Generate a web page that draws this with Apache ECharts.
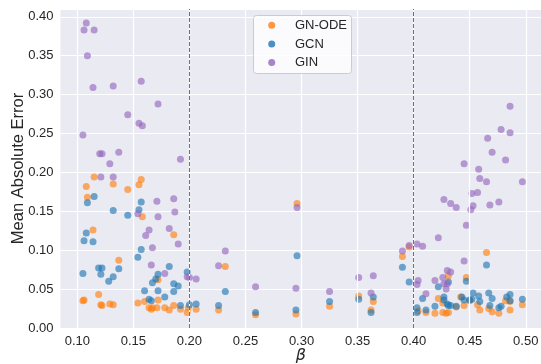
<!DOCTYPE html>
<html>
<head>
<meta charset="utf-8">
<script src="https://cdn.jsdelivr.net/npm/echarts@6/dist/echarts.min.js"></script>
<style>
  html, body { margin: 0; padding: 0; background: #ffffff; }
  #chart { width: 541px; height: 364px; }
</style>
</head>
<body>
<div id="chart"></div>
<script>
// Mean absolute error per graph, plotted against beta, for each model
const gnodeBeta = [
  0.115,0.132,0.108,0.157,0.155,0.145,0.109,0.114,0.158,0.186,
  0.137,0.172,0.119,0.105,0.106,0.121,0.122,0.129,0.132,0.154,0.160,0.172,0.164,0.166,0.167,0.171,0.178,0.182,0.186,0.192,0.198,0.199,0.206,
  0.232,0.226,0.259,0.295,0.296,0.325,0.351,0.364,0.362,
  0.390,0.396,0.404,0.411,0.419,0.422,0.426,0.426,0.429,0.431,0.431,0.438,0.442,0.445,0.447,0.450,0.457,0.459,0.465,0.467,0.470,0.476,0.482,0.486,0.486,0.497
];
const gnodeMae = [
  0.194,0.185,0.182,0.191,0.184,0.178,0.168,0.126,0.143,0.120,
  0.087,0.062,0.043,0.035,0.036,0.030,0.029,0.031,0.030,0.032,0.034,0.036,0.026,0.024,0.026,0.026,0.026,0.023,0.029,0.024,0.020,0.026,0.024,
  0.079,0.023,0.017,0.018,0.160,0.028,0.041,0.034,0.023,
  0.092,0.104,0.022,0.020,0.019,0.038,0.032,0.020,0.019,0.020,0.067,0.027,0.040,0.029,0.065,0.035,0.030,0.023,0.097,0.025,0.021,0.019,0.035,0.034,0.023,0.030
];

const gcnBeta = [
  0.115,0.109,0.157,0.132,0.155,0.145,0.108,0.106,0.114,0.157,
  0.154,0.105,0.119,0.122,0.121,0.137,0.132,0.128,0.182,0.172,0.170,0.167,0.198,0.186,0.190,0.160,0.172,0.186,0.178,0.164,0.166,0.192,0.200,0.206,
  0.232,0.226,0.259,0.295,0.296,0.325,0.351,0.364,0.362,
  0.390,0.396,0.403,0.403,0.408,0.411,0.419,0.422,0.427,0.427,0.430,0.431,0.431,0.433,0.438,0.443,0.445,0.447,0.450,0.452,0.453,0.458,0.459,0.465,0.467,0.470,0.468,0.476,0.478,0.483,0.486,0.486,0.497
];
const gcnMae = [
  0.169,0.161,0.162,0.151,0.152,0.145,0.122,0.112,0.111,0.101,
  0.091,0.070,0.077,0.077,0.069,0.076,0.066,0.060,0.079,0.069,0.063,0.058,0.072,0.057,0.054,0.048,0.048,0.047,0.040,0.037,0.035,0.029,0.030,0.031,
  0.047,0.029,0.020,0.023,0.093,0.034,0.037,0.040,0.020,
  0.078,0.059,0.026,0.020,0.038,0.023,0.028,0.053,0.040,0.036,0.031,0.059,0.029,0.029,0.028,0.040,0.036,0.060,0.036,0.037,0.045,0.041,0.034,0.081,0.045,0.038,0.029,0.026,0.028,0.040,0.043,0.035,0.037
];

const ginBeta = [
  0.108,0.106,0.115,0.109,0.157,0.114,0.132,0.172,0.145,0.155,0.158,0.105,0.120,0.122,0.137,0.129,0.192,
  0.121,0.132,0.171,0.186,0.154,0.172,0.187,0.164,0.182,0.161,0.190,0.167,
  0.166,0.178,0.198,0.200,0.206,
  0.232,0.226,0.259,0.295,0.296,0.325,0.351,0.364,0.362,
  0.486,0.478,0.486,0.466,0.470,0.482,0.445,0.458,0.459,0.465,0.497,0.452,0.457,0.427,0.476,0.433,0.438,0.453,0.451,0.468,
  0.447,0.422,0.403,0.408,0.396,0.390,0.445,0.430,0.433,0.404,0.403,0.419,0.426,0.427,0.430,0.429,0.411
];
const ginMae = [
  0.392,0.383,0.383,0.350,0.317,0.309,0.311,0.288,0.274,0.263,0.260,0.248,0.224,0.224,0.226,0.211,0.217,
  0.194,0.194,0.163,0.166,0.147,0.143,0.149,0.126,0.128,0.119,0.108,0.103,
  0.081,0.070,0.066,0.065,0.063,
  0.099,0.080,0.053,0.051,0.155,0.047,0.065,0.067,0.045,
  0.285,0.255,0.251,0.244,0.226,0.216,0.211,0.204,0.192,0.188,0.188,0.173,0.174,0.165,0.162,0.160,0.155,0.157,0.152,0.158,
  0.132,0.116,0.108,0.105,0.106,0.099,0.086,0.074,0.072,0.061,0.056,0.061,0.065,0.057,0.057,0.050,0.044
];

const seriesNames = ['GN-ODE', 'GCN', 'GIN'];
const xTicks = [0.10, 0.15, 0.20, 0.25, 0.30, 0.35, 0.40, 0.45, 0.50];
const regimeBounds = [0.2026, 0.3988];

const colors = ['rgba(255,127,14,0.8)', 'rgba(31,119,180,0.8)', 'rgba(148,103,189,0.8)'];
const FONT = "'Liberation Sans', Arial, sans-serif";

function pairs(xs, ys) { return xs.map((x, i) => [x, ys[i]]); }

function isMajor(v) { return Math.abs(v * 20 - Math.round(v * 20)) < 1e-6; }

const chart = echarts.init(document.getElementById('chart'), null, { renderer: 'canvas' });

const scatter = (name, data, color) => ({
  name: name,
  type: 'scatter',
  data: data,
  symbol: 'circle',
  symbolSize: 7,
  z: 3,
  itemStyle: { color: color, borderWidth: 0 },
  emphasis: { disabled: true },
  silent: true
});

// Legend box: framed panel with one dot + label per model
const legendBox = { x: 253.5, y: 15.5, w: 98, h: 58 };
const legendRows = [25.3, 44.0, 62.5];
const legendGraphics = [{
  type: 'rect',
  shape: { x: legendBox.x, y: legendBox.y, width: legendBox.w, height: legendBox.h, r: 3 },
  style: { fill: 'rgba(255,255,255,0.8)', stroke: '#cccccc', lineWidth: 1 },
  z: 10, silent: true
}];
seriesNames.forEach((name, i) => {
  legendGraphics.push({
    type: 'circle',
    shape: { cx: 271.7, cy: legendRows[i], r: 3.5 },
    style: { fill: colors[i] },
    z: 11, silent: true
  });
  legendGraphics.push({
    type: 'text',
    x: 295, y: legendRows[i],
    style: { text: name, fill: '#262626', font: '13px ' + FONT, textVerticalAlign: 'middle', verticalAlign: 'middle' },
    z: 11, silent: true
  });
});

chart.setOption({
  animation: false,
  backgroundColor: '#ffffff',
  grid: {
    left: 60.5, top: 9, right: 0, bottom: 36,
    outerBoundsMode: 'none',
    show: true, backgroundColor: '#eaeaf2', borderWidth: 0
  },
  xAxis: {
    type: 'value',
    min: 0.085, max: 0.5136, interval: 0.005,
    axisLine: { show: false },
    axisTick: { show: false },
    splitLine: { show: false },
    axisLabel: {
      color: '#262626', fontSize: 13, fontFamily: FONT, margin: 7,
      showMinLabel: false, showMaxLabel: false,
      formatter: v => (isMajor(v) ? v.toFixed(2) : '')
    },
    name: 'β',
    nameLocation: 'middle',
    nameGap: 20,
    nameMoveOverlap: false,
    nameTextStyle: { color: '#262626', fontSize: 16, fontStyle: 'italic', fontFamily: "'DejaVu Sans', sans-serif" }
  },
  yAxis: {
    type: 'value',
    min: 0, max: 0.41, interval: 0.05,
    axisLine: { show: false },
    axisTick: { show: false },
    splitLine: { show: true, lineStyle: { color: '#ffffff', width: 1.2 } },
    axisLabel: {
      color: '#262626', fontSize: 13, fontFamily: FONT, margin: 7,
      showMaxLabel: false,
      formatter: v => v.toFixed(2)
    },
    name: 'Mean Absolute Error',
    nameLocation: 'middle',
    nameRotate: 90,
    nameGap: 34,
    nameMoveOverlap: false,
    nameTextStyle: { color: '#262626', fontSize: 16.5, fontFamily: FONT }
  },
  graphic: legendGraphics,
  series: [
    {
      name: 'grid',
      type: 'scatter',
      data: [],
      z: 1,
      silent: true,
      markLine: {
        silent: true, symbol: 'none', label: { show: false }, animation: false,
        lineStyle: { color: '#ffffff', width: 1.2, type: 'solid' },
        data: xTicks.map(v => ({ xAxis: v }))
      }
    },
    scatter(seriesNames[0], pairs(gnodeBeta, gnodeMae), colors[0]),
    scatter(seriesNames[1], pairs(gcnBeta, gcnMae), colors[1]),
    scatter(seriesNames[2], pairs(ginBeta, ginMae), colors[2]),
    {
      name: 'bounds',
      type: 'scatter',
      data: [],
      z: 4,
      silent: true,
      markLine: {
        silent: true, symbol: 'none', label: { show: false }, animation: false,
        lineStyle: { color: '#707070', width: 1, type: [4, 2] },
        data: regimeBounds.map(v => ({ xAxis: v }))
      }
    }
  ]
});
</script>
</body>
</html>
